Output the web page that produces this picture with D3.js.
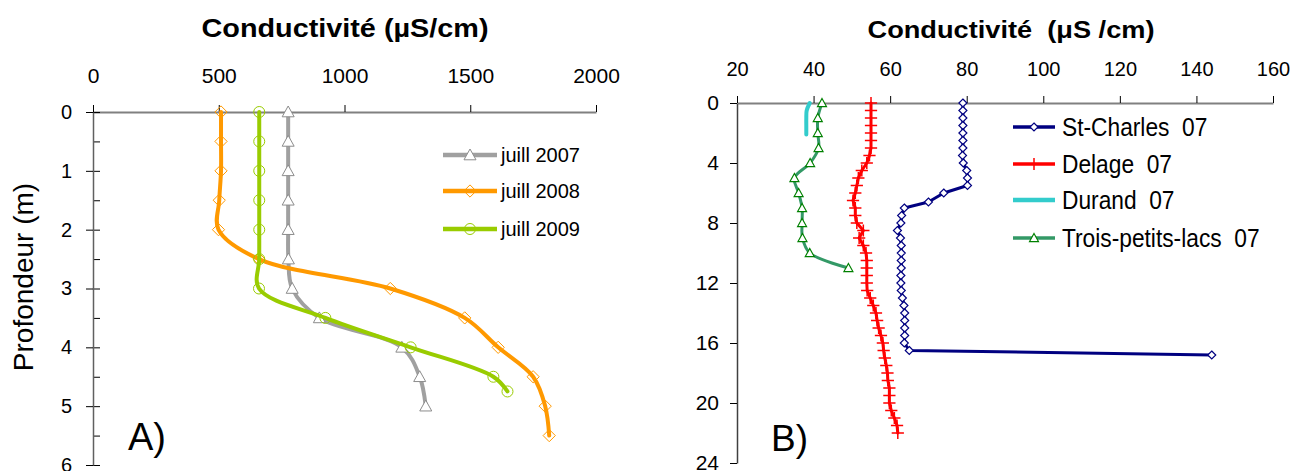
<!DOCTYPE html>
<html>
<head>
<meta charset="utf-8">
<script src="https://cdn.jsdelivr.net/npm/d3@7"></script>
<style>
  body { margin: 0; background: #fff; }
  svg { font-family: "Liberation Sans", Arial, sans-serif; }
  .axis line { stroke: #000; }
  .axis text { fill: #000; }
</style>
</head>
<body>
<svg width="1301" height="471"></svg>
<script>
// panel A : conductivite vs profondeur, juillet 2007-2009
const depth2007 = [0, 0.5, 1, 1.5, 2, 2.5, 3, 3.5, 4, 4.5, 5];
const cond2007 = [776, 776, 776, 776, 776, 777, 792, 900, 1228, 1299, 1323];
const depth2008 = [0, 0.5, 1, 1.5, 2, 2.5, 3, 3.5, 4, 4.5, 5, 5.5];
const cond2008 = [509, 509, 509, 502, 499, 660, 1182, 1478, 1611, 1750, 1798, 1814];
const depth2009 = [0, 0.5, 1, 1.5, 2, 2.5, 3, 3.5, 4, 4.5, 4.75];
const cond2009 = [661, 661, 661, 661, 661, 661, 660, 924, 1263, 1592, 1648];
const ticksXA = [0, 500, 1000, 1500, 2000];
const ticksYA = [0, 1, 2, 3, 4, 5, 6];
const minorYA = [0.5, 1.5, 2.5, 3.5, 4.5, 5.5];

// panel B : quatre lacs, 2007
const depthStCharles = [0, 0.5, 1, 1.5, 2, 2.5, 3, 3.5, 4, 4.5, 5, 5.5, 6, 6.6, 7, 7.5, 8, 8.5, 9, 9.5, 10,
  10.5, 11, 11.5, 12, 12.5, 13, 13.5, 14, 14.5, 15, 15.5, 16, 16.5, 16.8];
const condStCharles = [79, 79, 79, 79, 79, 79, 79, 78.9, 79.1, 80, 80.2, 80.2, 74, 70, 63.7, 63, 62.8, 61.9, 62.7, 62.9, 62.9,
  62.9, 62.9, 62.8, 62.8, 62.9, 63.2, 63.6, 63.8, 63.8, 63.8, 63.8, 63.7, 65, 144];
const depthDelage = [0, 0.5, 1, 1.5, 2, 2.5, 3, 3.5, 4, 4.5, 5, 5.5, 6, 6.5, 7, 7.5, 8, 8.5, 9, 9.5, 10, 10.5, 11,
  11.5, 12, 12.5, 13, 13.5, 14, 14.5, 15, 15.5, 16, 16.5, 17, 17.5, 18, 18.5, 19, 19.5, 20, 20.5, 21, 21.5, 22];
const condDelage = [55, 55, 55, 55, 55, 55, 55, 54.6, 53.9, 52.6, 51.7, 51.3, 50.9, 50.3, 50.9, 50.9, 51.3, 53.0, 51.9, 53.0, 53.7, 53.9, 53.9,
  53.9, 53.9, 54.0, 54.8, 55.6, 56.3, 56.6, 57.0, 57.6, 58.1, 58.3, 58.6, 59.0, 59.3, 59.4, 59.8, 59.8, 59.8, 60.3, 61.1, 61.8, 62.0];
const depthDurand = [0, 0.5, 1, 1.5, 2.1];
const condDurand = [39, 38.2, 38.1, 38.1, 38.1];
const depthTrois = [0, 1, 2, 3, 4, 5, 6, 7, 8, 9, 10, 11];
const condTrois = [42.2, 41.1, 41.1, 41.3, 39.1, 35.0, 36.1, 37.0, 37.0, 37.1, 39.0, 49.1];
const ticksXB = [20, 40, 60, 80, 100, 120, 140, 160];
const ticksYB = [0, 4, 8, 12, 16, 20, 24];

const svg = d3.select('svg');

// excel-like markers, size = full width in px squared
const sym = {
  plus: { draw(ctx, size) { const r = Math.sqrt(size) / 2;
    ctx.moveTo(-r, 0); ctx.lineTo(r, 0); ctx.moveTo(0, -r); ctx.lineTo(0, r); } },
  diamond: { draw(ctx, size) { const r = Math.sqrt(size) / 2;
    ctx.moveTo(0, -r); ctx.lineTo(r, 0); ctx.lineTo(0, r); ctx.lineTo(-r, 0); ctx.closePath(); } },
  triangle: { draw(ctx, size) { const r = Math.sqrt(size) / 2;
    ctx.moveTo(0, -r); ctx.lineTo(r, 0.8 * r); ctx.lineTo(-r, 0.8 * r); ctx.closePath(); } },
  circle: { draw(ctx, size) { const r = Math.sqrt(size) / 2;
    ctx.moveTo(r, 0); ctx.arc(0, 0, r, 0, 2 * Math.PI); } }
};

const zip = (d, v) => d.map((dd, i) => ({ depth: dd, val: v[i] }));

function drawSeries(g, x, y, s) {
  const pts = zip(s.depth, s.vals);
  const line = d3.line()
    .x(p => x(p.val))
    .y(p => y(p.depth))
    .curve(s.curve);
  g.append('path')
    .datum(pts)
    .attr('fill', 'none')
    .attr('stroke', s.color)
    .attr('stroke-width', s.width)
    .attr('stroke-linejoin', 'round')
    .attr('stroke-linecap', 'round')
    .attr('d', line);
  if (!s.symbol) return;
  g.selectAll(null)
    .data(pts)
    .enter()
    .append('path')
    .attr('transform', p => `translate(${x(p.val)},${y(p.depth)})`)
    .attr('d', d3.symbol(s.symbol, s.size))
    .attr('fill', s.fill)
    .attr('stroke', s.mcolor)
    .attr('stroke-width', s.mwidth);
}

function legend(g, items, x0, x1, tx, fontSize, sx) {
  items.forEach(s => {
    const row = g.append('g').attr('transform', `translate(0,${s.ly})`);
    row.append('line')
      .attr('x1', x0).attr('x2', x1)
      .attr('stroke', s.color)
      .attr('stroke-width', s.width + 0.5);
    if (s.symbol) {
      row.append('path')
        .attr('transform', `translate(${(x0 + x1) / 2},0)`)
        .attr('d', d3.symbol(s.symbol, s.size))
        .attr('fill', s.fill)
        .attr('stroke', s.mcolor)
        .attr('stroke-width', s.mwidth);
    }
    row.append('text')
      .attr('transform', `translate(${tx},0) scale(${sx},1)`)
      .attr('dy', '0.35em')
      .attr('xml:space', 'preserve')
      .style('white-space', 'pre')
      .style('font-size', fontSize + 'px')
      .text(s.name);
  });
}

// ---------- panel A ----------
const xA = d3.scaleLinear().domain([0, 2000]).range([93, 596]);
const yA = d3.scaleLinear().domain([0, 6]).range([112, 465]);

const axA = svg.append('g')
  .attr('class', 'axis')
  .attr('transform', `translate(0,${yA(0)})`)
  .call(d3.axisTop(xA).tickValues(ticksXA).tickFormat(d3.format('d'))
    .tickSize(7).tickSizeOuter(0).tickPadding(22));
axA.select('.domain').attr('stroke', '#808080').attr('stroke-width', 2);
axA.selectAll('text').style('font-size', '21px');

// minor ticks inside, major ticks crossing
svg.append('g')
  .attr('class', 'axis')
  .attr('transform', `translate(${xA(0)},0)`)
  .call(d3.axisRight(yA).tickValues(minorYA.concat(ticksYA)).tickSize(7).tickFormat(''))
  .select('.domain').remove();
const ayA = svg.append('g')
  .attr('class', 'axis')
  .attr('transform', `translate(${xA(0)},0)`)
  .call(d3.axisLeft(yA).tickValues(ticksYA).tickFormat(d3.format('d'))
    .tickSize(7).tickSizeOuter(0).tickPadding(14));
ayA.select('.domain').attr('stroke', '#606060').attr('stroke-width', 1.5);
ayA.selectAll('text').style('font-size', '20px');

svg.append('text')
  .attr('x', 345).attr('y', 37)
  .attr('text-anchor', 'middle')
  .attr('textLength', 287).attr('lengthAdjust', 'spacingAndGlyphs')
  .style('font-size', '25px').style('font-weight', 'bold')
  .text('Conductivité (µS/cm)');

svg.append('text')
  .attr('transform', 'translate(33,277) rotate(-90)')
  .attr('text-anchor', 'middle')
  .style('font-size', '28px')
  .text('Profondeur (m)');

svg.append('text')
  .attr('x', 128).attr('y', 450)
  .style('font-size', '38px')
  .text('A)');

const smooth = d3.curveCatmullRom.alpha(0.5);
const seriesA = [
  { name: 'juill 2007', depth: depth2007, vals: cond2007, color: '#a0a0a0', width: 4, curve: smooth,
    symbol: sym.triangle, size: 144, fill: '#fff', mcolor: '#8c8c8c', mwidth: 1, ly: 155 },
  { name: 'juill 2008', depth: depth2008, vals: cond2008, color: '#ff9900', width: 4, curve: smooth,
    symbol: sym.diamond, size: 150, fill: 'none', mcolor: '#ff9900', mwidth: 1, ly: 191 },
  { name: 'juill 2009', depth: depth2009, vals: cond2009, color: '#99cc00', width: 4, curve: smooth,
    symbol: sym.circle, size: 121, fill: 'none', mcolor: '#99cc00', mwidth: 1, ly: 229 }
];
const gA = svg.append('g');
seriesA.forEach(s => drawSeries(gA, xA, yA, s));
legend(svg.append('g'), seriesA, 443, 497, 501, 20, 1);

// ---------- panel B ----------
const xB = d3.scaleLinear().domain([20, 160]).range([737, 1273]);
const yB = d3.scaleLinear().domain([0, 24]).range([103, 463]);

const axB = svg.append('g')
  .attr('class', 'axis')
  .attr('transform', `translate(0,${yB(0)})`)
  .call(d3.axisTop(xB).tickValues(ticksXB).tickSize(7).tickSizeOuter(0).tickPadding(20));
axB.select('.domain').attr('stroke', '#808080').attr('stroke-width', 2);
axB.selectAll('text').style('font-size', '20px');

const ayB = svg.append('g')
  .attr('class', 'axis')
  .attr('transform', `translate(${xB(20)},0)`)
  .call(d3.axisLeft(yB).tickValues(ticksYB).tickSize(7).tickSizeOuter(0).tickPadding(11));
ayB.select('.domain').attr('stroke', '#404040').attr('stroke-width', 1.5);
ayB.selectAll('text').style('font-size', '21px');

svg.append('text')
  .attr('x', 1011).attr('y', 38)
  .attr('text-anchor', 'middle')
  .attr('xml:space', 'preserve')
  .style('white-space', 'pre')
  .attr('textLength', 287).attr('lengthAdjust', 'spacingAndGlyphs')
  .style('font-size', '23px').style('font-weight', 'bold')
  .text('Conductivité  (μS /cm)');

svg.append('text')
  .attr('x', 771).attr('y', 451)
  .style('font-size', '37px')
  .text('B)');

const seriesB = [
  { name: 'St-Charles  07', depth: depthStCharles, vals: condStCharles, color: '#000080', width: 3, curve: d3.curveLinear,
    symbol: sym.diamond, size: 64, fill: '#fff', mcolor: '#000080', mwidth: 1.2, ly: 127 },
  { name: 'Delage  07', depth: depthDelage, vals: condDelage, color: '#ff0000', width: 3, curve: d3.curveLinear,
    symbol: sym.plus, size: 150, fill: 'none', mcolor: '#ff0000', mwidth: 1.5, ly: 164 },
  { name: 'Durand  07', depth: depthDurand, vals: condDurand, color: '#33cccc', width: 4, curve: smooth,
    symbol: null, ly: 200 },
  { name: 'Trois-petits-lacs  07', depth: depthTrois, vals: condTrois, color: '#339966', width: 3, curve: smooth,
    symbol: sym.triangle, size: 80, fill: '#fff', mcolor: '#008000', mwidth: 1.2, ly: 238 }
];
const gB = svg.append('g');
seriesB.forEach(s => drawSeries(gB, xB, yB, s));
legend(svg.append('g'), seriesB, 1013, 1055, 1062, 25, 0.91);
</script>
</body>
</html>
